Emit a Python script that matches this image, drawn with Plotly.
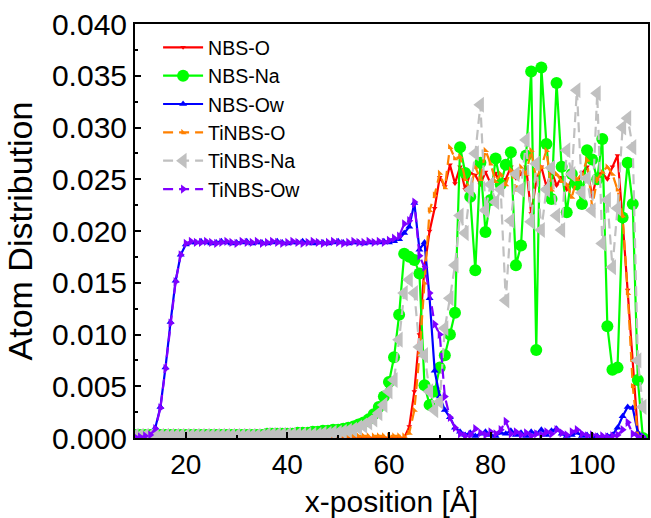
import plotly.graph_objects as go

# Position along the slab normal [Å], one bin per Å
x_pos = list(range(10, 111))

# NBS glass: bridging/non-bridging oxygen
nbs_o = (
    [0.0] * 54 +                                        # 10-63
    [0.0011, 0.0045, 0.0100, 0.0165, 0.0200, 0.0222,    # 64-69
     0.0252, 0.0243, 0.0264, 0.0246, 0.0262, 0.0240,    # 70-75
     0.0256, 0.0254, 0.0245, 0.0257, 0.0246, 0.0256,    # 76-81
     0.0244, 0.0250, 0.0262, 0.0251, 0.0255, 0.0262,    # 82-87
     0.0217, 0.0248, 0.0262, 0.0243, 0.0258, 0.0244,    # 88-93
     0.0252, 0.0240, 0.0250, 0.0247, 0.0256, 0.0262,    # 94-99
     0.0233, 0.0255, 0.0256, 0.0250, 0.0262, 0.0273,    # 100-105
     0.0210, 0.0143, 0.0075, 0.0005, 0.0]               # 106-110
)

# NBS glass: sodium
nbs_na = (
    [0.0003] * 26 +                                     # 10-35
    [0.0004, 0.0004, 0.0004, 0.0004, 0.0004, 0.0004,    # 36-41
     0.0005, 0.0005, 0.0005, 0.0006,                    # 42-45
     0.0006, 0.0007, 0.0007, 0.0008, 0.0008, 0.0009,    # 46-51
     0.0010, 0.0011, 0.0013, 0.0015, 0.0018, 0.0023,    # 52-57
     0.0030, 0.0040, 0.0054, 0.0078, 0.0119, 0.0178,    # 58-63
     0.0175, 0.0172, 0.0159, 0.0051, 0.0032, 0.0045,    # 64-69
     0.0068, 0.0080, 0.0100, 0.0121, 0.0281, 0.0256,    # 70-75
     0.0233, 0.0162, 0.0266, 0.0199, 0.0230, 0.0270,    # 76-81
     0.0245, 0.0264, 0.0276, 0.0167, 0.0186, 0.0273,    # 82-87
     0.0354, 0.0085, 0.0358, 0.0284, 0.0231, 0.0343,    # 88-93
     0.0262, 0.0218, 0.0255, 0.0245, 0.0226, 0.0278,    # 94-99
     0.0269, 0.0250, 0.0289, 0.0108, 0.0066, 0.0068,    # 100-105
     0.0213, 0.0266, 0.0226, 0.0056, 0.0]               # 106-110
)

# NBS glass: water oxygen
nbs_ow = (
    [0.0002, 0.0002, 0.0002, 0.0003, 0.0010, 0.0030,    # 10-15
     0.0068, 0.0112, 0.0152, 0.0177, 0.0187, 0.0189,    # 16-21
     0.0189, 0.0190, 0.0189, 0.0188, 0.0189, 0.0190,    # 22-27
     0.0189, 0.0188, 0.0189, 0.0189, 0.0190, 0.0188,    # 28-33
     0.0189, 0.0189, 0.0188, 0.0189, 0.0190, 0.0189,    # 34-39
     0.0188, 0.0189, 0.0189, 0.0190, 0.0189, 0.0188,    # 40-45
     0.0189, 0.0189, 0.0188, 0.0189, 0.0190, 0.0189,    # 46-51
     0.0188, 0.0189, 0.0189, 0.0188, 0.0189, 0.0189,    # 52-57
     0.0189, 0.0190, 0.0189, 0.0190, 0.0192, 0.0198,    # 58-63
     0.0204, 0.0227, 0.0182, 0.0189, 0.0135, 0.0065,    # 64-69
     0.0040, 0.0027, 0.0020, 0.0010, 0.0006, 0.0003,    # 70-75
     0.0005, 0.0002, 0.0004, 0.0006, 0.0003, 0.0002,    # 76-81
     0.0005, 0.0004, 0.0007, 0.0003, 0.0005, 0.0002,    # 82-87
     0.0006, 0.0004, 0.0008, 0.0003, 0.0007, 0.0009,    # 88-93
     0.0004, 0.0002, 0.0003, 0.0005, 0.0002, 0.0003,    # 94-99
     0.0001, 0.0002, 0.0001, 0.0002, 0.0003, 0.0010,    # 100-105
     0.0021, 0.0030, 0.0029, 0.0005, 0.0001]            # 106-110
)

# Ti-doped NBS glass: oxygen
tinbs_o = (
    [0.0] * 36 +                                        # 10-45
    [0.0002] * 18 +                                     # 46-63
    [0.0005, 0.0027, 0.0080, 0.0150, 0.0220, 0.0235,    # 64-69
     0.0256, 0.0242, 0.0281, 0.0270, 0.0272, 0.0250,    # 70-75
     0.0238, 0.0262, 0.0250, 0.0278, 0.0265, 0.0248,    # 76-81
     0.0255, 0.0245, 0.0259, 0.0240, 0.0262, 0.0255,    # 82-87
     0.0278, 0.0250, 0.0262, 0.0278, 0.0240, 0.0255,    # 88-93
     0.0248, 0.0245, 0.0233, 0.0250, 0.0255, 0.0269,    # 94-99
     0.0223, 0.0250, 0.0257, 0.0262, 0.0255, 0.0240,    # 100-105
     0.0215, 0.0140, 0.0050, 0.0003, 0.0]               # 106-110
)

# Ti-doped NBS glass: sodium
tinbs_na = (
    [0.0002] * 26 +                                     # 10-35
    [0.0003] * 10 +                                     # 36-45
    [0.0003, 0.0004, 0.0004, 0.0005, 0.0005, 0.0006,    # 46-51
     0.0007, 0.0008, 0.0010, 0.0012, 0.0015, 0.0018,    # 52-57
     0.0024, 0.0032, 0.0045, 0.0056, 0.0095, 0.0140,    # 58-63
     0.0153, 0.0140, 0.0088, 0.0080, 0.0045, 0.0027,    # 64-69
     0.0035, 0.0106, 0.0135, 0.0167, 0.0215, 0.0198,    # 70-75
     0.0240, 0.0275, 0.0322, 0.0220, 0.0245, 0.0228,    # 76-81
     0.0240, 0.0133, 0.0210, 0.0255, 0.0240, 0.0288,    # 82-87
     0.0209, 0.0265, 0.0201, 0.0240, 0.0261, 0.0215,    # 88-93
     0.0201, 0.0278, 0.0255, 0.0336, 0.0237, 0.0251,    # 94-99
     0.0220, 0.0333, 0.0188, 0.0230, 0.0165, 0.0222,    # 100-105
     0.0300, 0.0309, 0.0281, 0.0075, 0.0030]            # 106-110
)

# Ti-doped NBS glass: water oxygen
tinbs_ow = (
    [0.0001, 0.0001, 0.0002, 0.0003, 0.0009, 0.0029,    # 10-15
     0.0067, 0.0111, 0.0151, 0.0177, 0.0188, 0.0190,    # 16-21
     0.0189, 0.0189, 0.0190, 0.0189, 0.0188, 0.0189,    # 22-27
     0.0190, 0.0189, 0.0188, 0.0190, 0.0189, 0.0189,    # 28-33
     0.0190, 0.0188, 0.0189, 0.0190, 0.0189, 0.0188,    # 34-39
     0.0189, 0.0190, 0.0189, 0.0188, 0.0189, 0.0190,    # 40-45
     0.0189, 0.0188, 0.0189, 0.0190, 0.0189, 0.0188,    # 46-51
     0.0189, 0.0190, 0.0189, 0.0189, 0.0190, 0.0189,    # 52-57
     0.0190, 0.0189, 0.0191, 0.0193, 0.0195, 0.0207,    # 58-63
     0.0210, 0.0228, 0.0176, 0.0165, 0.0140, 0.0110,    # 64-69
     0.0100, 0.0040, 0.0020, 0.0010, 0.0004, 0.0002,    # 70-75
     0.0003, 0.0009, 0.0005, 0.0003, 0.0006, 0.0004,    # 76-81
     0.0008, 0.0016, 0.0004, 0.0006, 0.0003, 0.0005,    # 82-87
     0.0002, 0.0004, 0.0003, 0.0006, 0.0004, 0.0008,    # 88-93
     0.0005, 0.0003, 0.0006, 0.0008, 0.0004, 0.0002,    # 94-99
     0.0003, 0.0001, 0.0002, 0.0001, 0.0002, 0.0003,    # 100-105
     0.0008, 0.0015, 0.0004, 0.0001, 0.0001]            # 106-110
)

FONT = "Liberation Sans, Arial, sans-serif"
DASH = "10px,6px"

series = [
    ("NBS-O", nbs_o, "#FF0000", "solid", "triangle-down", 5),
    ("NBS-Na", nbs_na, "#00FF00", "solid", "circle", 12),
    ("NBS-Ow", nbs_ow, "#0000FF", "solid", "triangle-up", 7),
    ("TiNBS-O", tinbs_o, "#FF8000", DASH, "triangle-sw", 6),
    ("TiNBS-Na", tinbs_na, "#C0C0C0", DASH, "triangle-left", 14),
    ("TiNBS-Ow", tinbs_ow, "#8000FF", DASH, "triangle-right", 8),
]

fig = go.Figure()
for name, ys, color, dash, symbol, msize in series:
    fig.add_trace(go.Scatter(
        x=x_pos, y=ys, name=name, mode="lines+markers",
        line=dict(color=color, width=2.2, dash=dash),
        marker=dict(color=color, symbol=symbol, size=msize, line=dict(width=0)),
    ))

fig.update_layout(
    width=651, height=518,
    margin=dict(l=135, r=1, t=24, b=80),
    paper_bgcolor="white", plot_bgcolor="white",
    font=dict(family=FONT, color="black"),
    showlegend=True,
    legend=dict(
        x=0.045, y=0.99, xanchor="left", yanchor="top",
        font=dict(family=FONT, size=19.5, color="black"),
        bgcolor="rgba(0,0,0,0)", borderwidth=0,
        tracegroupgap=0, itemwidth=40,
    ),
)

fig.update_xaxes(
    range=[10, 111], tick0=0, dtick=20,
    ticks="inside", ticklen=6, tickwidth=1.5, tickcolor="black",
    minor=dict(dtick=10, ticks="inside", ticklen=3, tickwidth=1.5, tickcolor="black"),
    showline=True, linecolor="black", linewidth=2, mirror=True,
    showgrid=False, zeroline=False,
    tickfont=dict(family=FONT, size=28),
    title=dict(text="x-position [Å]", font=dict(family=FONT, size=30), standoff=14),
)

fig.update_yaxes(
    range=[0, 0.04], tick0=0, dtick=0.005, tickformat=".3f",
    ticks="inside", ticklen=6, tickwidth=1.5, tickcolor="black",
    minor=dict(dtick=0.0025, ticks="inside", ticklen=3, tickwidth=1.5, tickcolor="black"),
    showline=True, linecolor="black", linewidth=2, mirror=True,
    showgrid=False, zeroline=False,
    tickfont=dict(family=FONT, size=30),
    title=dict(text="Atom Distribution", font=dict(family=FONT, size=34), standoff=9),
)

fig.write_html("out.html")
